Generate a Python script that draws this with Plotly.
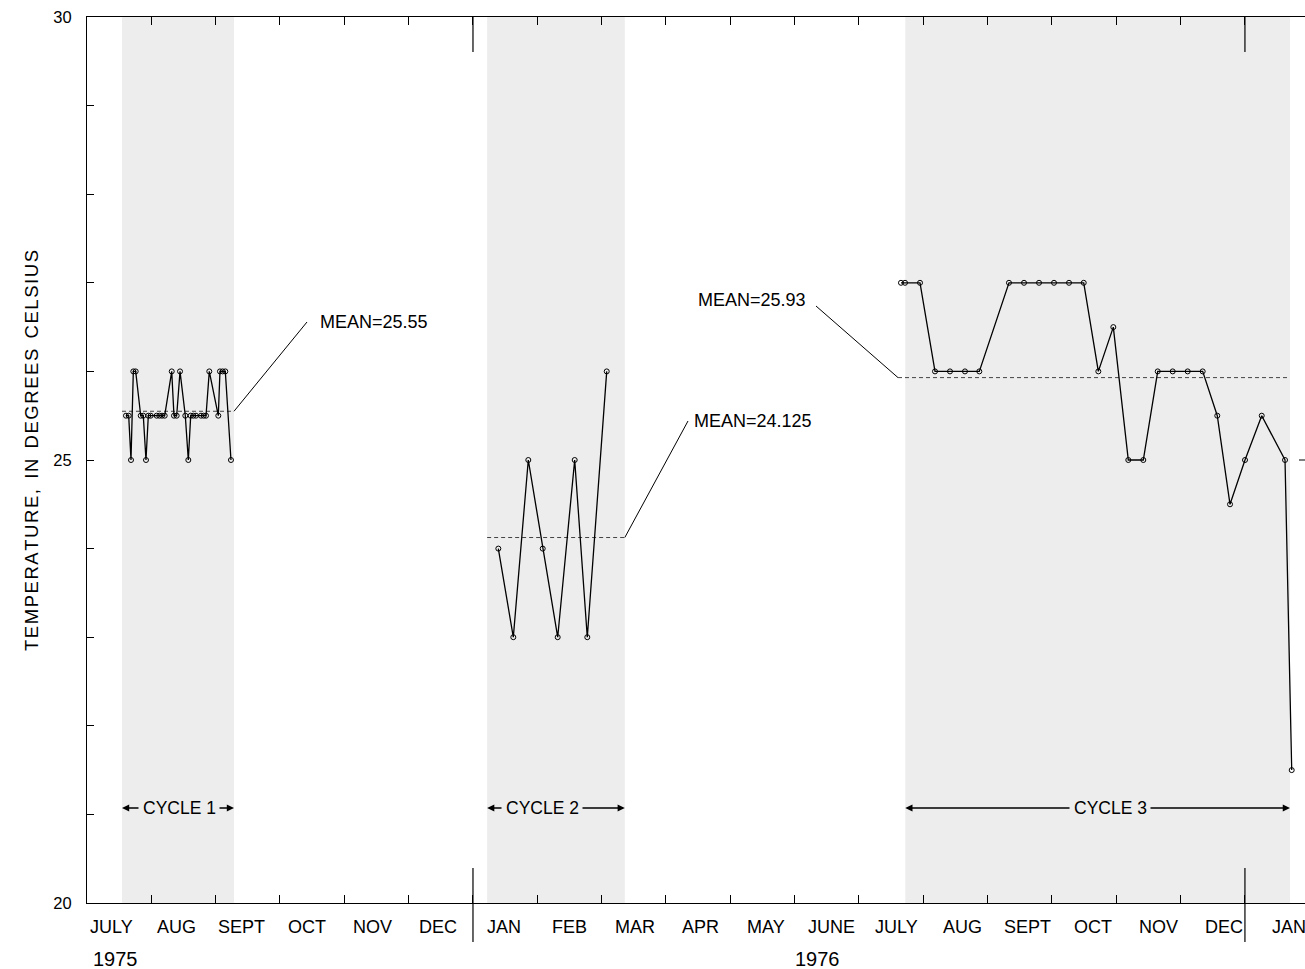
import plotly.graph_objects as go

# Sampling times in months after 1 July 1975 (one unit = one calendar month)
cycle1_t = [0.606, 0.648, 0.684, 0.720, 0.757, 0.835, 0.875, 0.917, 0.953, 0.990,
            1.083, 1.124, 1.166, 1.208, 1.317, 1.352, 1.394, 1.446, 1.528, 1.575,
            1.612, 1.652, 1.694, 1.772, 1.814, 1.850, 1.901, 2.041, 2.067, 2.109,
            2.150, 2.238]
cycle1_temp = [25.5, 25.5, 25.0, 26.0, 26.0, 25.5, 25.5, 25.0, 25.5, 25.5,
               25.5, 25.5, 25.5, 25.5, 26.0, 25.5, 25.5, 26.0, 25.5, 25.0,
               25.5, 25.5, 25.5, 25.5, 25.5, 25.5, 26.0, 25.5, 26.0, 26.0,
               26.0, 25.0]

cycle2_t = [6.394, 6.627, 6.860, 7.084, 7.317, 7.581, 7.777, 8.079]
cycle2_temp = [24.0, 23.0, 25.0, 24.0, 23.0, 25.0, 23.0, 26.0]

cycle3_t = [12.653, 12.716, 12.949, 13.182, 13.415, 13.648, 13.871, 14.332, 14.566,
            14.799, 15.032, 15.265, 15.494, 15.721, 15.954, 16.187, 16.420, 16.644,
            16.877, 17.110, 17.343, 17.570, 17.768, 18.001, 18.261, 18.623, 18.727]
cycle3_temp = [27.0, 27.0, 27.0, 26.0, 26.0, 26.0, 26.0, 27.0, 27.0,
               27.0, 27.0, 27.0, 27.0, 26.0, 26.5, 25.0, 25.0, 26.0,
               26.0, 26.0, 26.0, 25.5, 24.5, 25.0, 25.5, 25.0, 21.5]

mean_values = [25.55, 24.125, 25.93]
mean_labels = ["MEAN=25.55", "MEAN=24.125", "MEAN=25.93"]
cycle_spans = [(0.544, 2.285), (6.22, 8.36), (12.72, 18.70)]
cycle_names = ["CYCLE 1", "CYCLE 2", "CYCLE 3"]

month_names = ["JULY", "AUG", "SEPT", "OCT", "NOV", "DEC", "JAN", "FEB", "MAR",
               "APR", "MAY", "JUNE", "JULY", "AUG", "SEPT", "OCT", "NOV", "DEC", "JAN"]
year_labels = ["1975", "1976"]
y_title_words = ["TEMPERATURE,", "IN", "DEGREES", "CELSIUS"]

# ---- page geometry -------------------------------------------------------
W, H = 1305, 969
ML, MT, MB, MR = 87, 17, 66, 0
PW, PH = W - ML - MR, H - MT - MB
MONTH_PX = 64.33
X_MAX = PW / MONTH_PX
FONT = "Liberation Sans, Arial, sans-serif"
HAIR = "\u200a"


def py(pixel_y):
    """Page pixel row -> paper y coordinate."""
    return (H - MB - pixel_y) / PH


def px_month(pixel_x):
    """Page pixel column -> month position on the x axis."""
    return (pixel_x - ML) / MONTH_PX


def temp_at(pixel_y):
    """Page pixel row -> temperature on the y axis."""
    return 30 - (pixel_y - MT) / (PH / 10)


fig = go.Figure()

# shaded sampling cycles
for x0, x1 in cycle_spans:
    fig.add_shape(type="rect", xref="x", yref="paper", x0=x0, x1=x1, y0=0, y1=1,
                  fillcolor="#ededed", line_width=0, layer="below")

# mean lines (dashed) across each cycle
mean_starts = [cycle_spans[0][0], cycle_spans[1][0], px_month(898)]
for (x0, x1), m, xs in zip(cycle_spans, mean_values, mean_starts):
    fig.add_trace(go.Scatter(x=[xs, x1], y=[m, m], mode="lines",
                             line=dict(color="#444444", width=1, dash="4px,3px"),
                             hoverinfo="skip", showlegend=False))

# temperature records
for t, v in [(cycle1_t, cycle1_temp), (cycle2_t, cycle2_temp), (cycle3_t, cycle3_temp)]:
    fig.add_trace(go.Scatter(x=t, y=v, mode="lines+markers",
                             line=dict(color="black", width=1.3),
                             marker=dict(symbol="circle-open", size=5,
                                         color="black", line=dict(width=1)),
                             showlegend=False))

annotations = []

# mean labels with leader lines
leader_ends = [(cycle_spans[0][1], mean_values[0]),
               (cycle_spans[1][1], mean_values[1]),
               (mean_starts[2], mean_values[2])]
leader_tops = [(px_month(307), temp_at(322)),
               (px_month(688), temp_at(421)),
               (px_month(816), temp_at(306))]
label_pts = [(px_month(318), temp_at(322), "left"),
             (px_month(692), temp_at(421), "left"),
             (px_month(808), temp_at(300), "right")]
for (ex, ey), (tx, ty), (lx, ly, anc), txt in zip(leader_ends, leader_tops, label_pts, mean_labels):
    fig.add_shape(type="line", xref="x", yref="y", x0=ex, y0=ey, x1=tx, y1=ty,
                  line=dict(color="black", width=1))
    annotations.append(dict(x=lx, y=ly, xref="x", yref="y", text=txt, showarrow=False,
                            xanchor=anc, yanchor="middle",
                            font=dict(family=FONT, size=18, color="black")))

# cycle extent arrows
arrow_y = temp_at(808)
cycle_label_x = [px_month(179), px_month(542), px_month(1110)]
half_w = 39 / MONTH_PX
for (x0, x1), cx, name in zip(cycle_spans, cycle_label_x, cycle_names):
    annotations.append(dict(x=cx, y=arrow_y, xref="x", yref="y", text=name,
                            showarrow=False, xanchor="center", yanchor="middle",
                            font=dict(family=FONT, size=17.5, color="black")))
    for end, start in [(x0, cx - half_w), (x1, cx + half_w)]:
        annotations.append(dict(x=end, y=arrow_y, ax=start, ay=arrow_y,
                                xref="x", yref="y", axref="x", ayref="y", text="",
                                showarrow=True, arrowhead=2, arrowsize=0.9,
                                arrowwidth=1.6, arrowcolor="black"))

# month names and years beneath the axis
for i, name in enumerate(month_names):
    annotations.append(dict(x=px_month(111 + 65.47 * i), y=py(927), xref="x", yref="paper",
                            text=name, showarrow=False, xanchor="center", yanchor="middle",
                            font=dict(family=FONT, size=18, color="black")))
for lbl, xp in zip(year_labels, [115, 817]):
    annotations.append(dict(x=px_month(xp), y=py(959), xref="x", yref="paper",
                            text=lbl, showarrow=False, xanchor="center", yanchor="middle",
                            font=dict(family=FONT, size=20, color="black")))

# y-axis title, slightly letter-spaced
y_title = "  ".join(HAIR.join(w) for w in y_title_words)
annotations.append(dict(x=(31 - ML) / PW, y=py(451), xref="paper", yref="paper",
                        text=y_title, textangle=-90,
                        showarrow=False, xanchor="center", yanchor="middle",
                        font=dict(family=FONT, size=18.5, color="black")))

# year dividers at January
for m in [6, 18]:
    fig.add_shape(type="line", xref="x", yref="paper", x0=m, x1=m,
                  y0=1, y1=1 - 35 / PH, line=dict(color="black", width=1.2))
    fig.add_shape(type="line", xref="x", yref="paper", x0=m, x1=m,
                  y0=35 / PH, y1=-39 / PH, line=dict(color="black", width=1.2))

# short tick on the right edge at 25 degrees
fig.add_shape(type="line", xref="paper", yref="y", x0=1, x1=1 - 6 / PW, y0=25, y1=25,
              line=dict(color="black", width=1))

fig.update_layout(
    width=W, height=H,
    margin=dict(l=ML, r=MR, t=MT, b=MB, autoexpand=False),
    plot_bgcolor="white", paper_bgcolor="white",
    showlegend=False,
    annotations=annotations,
    xaxis=dict(range=[0, X_MAX], tickmode="array", tickvals=list(range(19)),
               ticks="inside", ticklen=8, tickwidth=1.2, tickcolor="black",
               showticklabels=False, showgrid=False, zeroline=False,
               showline=True, linecolor="black", linewidth=1, mirror="ticks"),
    yaxis=dict(range=[20, 30], tickmode="array", tickvals=list(range(20, 31)),
               ticktext=["20", "", "", "", "", "25", "", "", "", "", "30"],
               ticks="inside", ticklen=7, tickwidth=1, tickcolor="black",
               tickfont=dict(family=FONT, size=16.5, color="black"),
               ticklabelstandoff=11,
               showgrid=False, zeroline=False, showline=True, linecolor="black",
               linewidth=1),
)

fig.write_html("out.html")
